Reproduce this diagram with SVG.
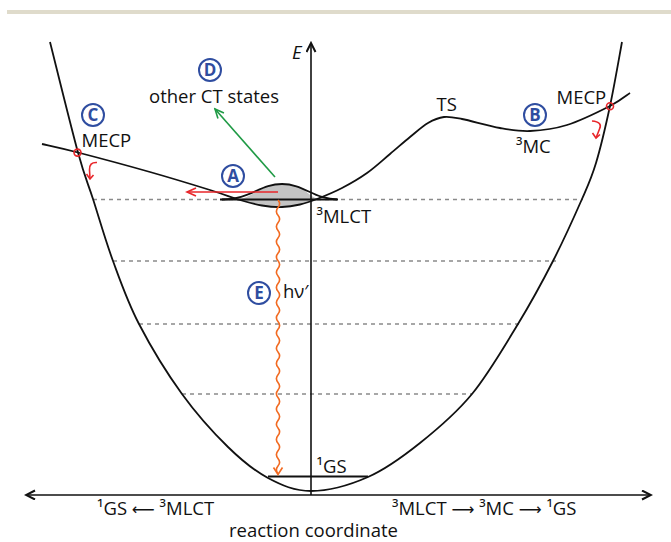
<svg xmlns="http://www.w3.org/2000/svg" width="671" height="542" viewBox="0 0 671 542">
<style>
.txt{font-family:"Open Sans","Liberation Sans",sans-serif;font-size:18.5px;fill:#111}
.arr{font-family:"DejaVu Sans",sans-serif;font-size:16px}
.curve{fill:none;stroke:#111;stroke-width:1.8}
.axis{fill:none;stroke:#111;stroke-width:1.6}
.dash{fill:none;stroke:#8a8a8a;stroke-width:1.5;stroke-dasharray:4 4}
.lbl circle{fill:none;stroke:#2f4da0;stroke-width:2}
.lbl text{font-family:"Open Sans","Liberation Sans",sans-serif;font-size:17px;font-weight:bold;fill:#2f4da0;text-anchor:middle}
.red{fill:none;stroke:#e8262a;stroke-width:1.6}
</style>
<defs>
<marker id="ak" markerUnits="userSpaceOnUse" markerWidth="12" markerHeight="12" refX="10" refY="5" orient="auto-start-reverse"><path d="M1,0.5 L10,5 L1,9.5" fill="none" stroke="#111" stroke-width="2"/></marker>
<marker id="ar" markerUnits="userSpaceOnUse" markerWidth="12" markerHeight="12" refX="10" refY="5" orient="auto"><path d="M1,1 L10,5 L1,9" fill="none" stroke="#e8262a" stroke-width="1.6"/></marker>
<marker id="ag" markerUnits="userSpaceOnUse" markerWidth="12" markerHeight="12" refX="10" refY="5" orient="auto"><path d="M1,1 L10,5 L1,9" fill="none" stroke="#1f9a45" stroke-width="1.6"/></marker>
</defs>
<rect x="7" y="10" width="664" height="4" fill="#dfdbcb"/>

<g id="levels">
<line class="dash" x1="93" y1="199.5" x2="583" y2="199.5"/>
<line class="dash" x1="113" y1="261" x2="556" y2="261"/>
<line class="dash" x1="139" y1="324" x2="519" y2="324"/>
<line class="dash" x1="182" y1="394" x2="472" y2="394"/>
</g>

<g id="wavefunction">
<path d="M240,199.6 C254,195 264,184 282,184 C300,184 306,193 317,199 C310,201.75 305.83,203.17 300,204.5 C294.17,205.83 288.33,206.83 282,207 C275.67,207.17 269,206.67 262,205.5 C255,204.33 248.67,202.58 240,200 Z" fill="#c4c4c4"/>
<path class="curve" d="M222,199.5 C250,199.5 260,184 282,184 C304,184 314,199.5 338,199.5"/>
<line class="curve" x1="220" y1="199.5" x2="337" y2="199.5"/>
</g>

<g id="gs-curve">
<path class="curve" d="M50,42 C54.67,60.42 70.83,126.33 78,152.5 C85.17,178.67 87.17,180.92 93,199 C98.83,217.08 105.33,240.17 113,261 C120.67,281.83 127.5,301.83 139,324 C150.5,346.17 167.17,373.5 182,394 C196.83,414.5 213.67,433 228,447 C242.33,461 254.17,470.67 268,478 C281.83,485.33 294.33,491 311,491 C327.67,491 349.83,485 368,477 C386.17,469 402.67,456.83 420,443 C437.33,429.17 455.67,413.83 472,394 C488.33,374.17 504.5,346.17 518,324 C531.5,301.83 542.33,281.83 553,261 C563.67,240.17 574.83,215.33 582,199 C589.17,182.67 591.33,178.5 596,163 C600.67,147.5 605.67,126.17 610,106 C614.33,85.83 620,52.67 622,42"/>
<line class="curve" x1="268" y1="476.5" x2="368" y2="476.5"/>
<text class="txt" x="316.5" y="473">¹GS</text>
</g>

<g id="excited-curve">
<path class="curve" d="M42,144 C48,145.42 60,147.83 78,152.5 C96,157.17 128,165.75 150,172 C172,178.25 195,185.33 210,190 C225,194.67 231.33,197.42 240,200 C248.67,202.58 255,204.33 262,205.5 C269,206.67 275.67,207.17 282,207 C288.33,206.83 294.17,205.83 300,204.5 C305.83,203.17 310,201.75 317,199 C324,196.25 333.67,192.33 342,188 C350.33,183.67 359,178.67 367,173 C375,167.33 382.83,160 390,154 C397.17,148 403.67,142.17 410,137 C416.33,131.83 422.33,126.33 428,123 C433.67,119.67 438.33,117.67 444,117 C449.67,116.33 452.67,117.17 462,119 C471.33,120.83 488.67,126 500,128 C511.33,130 518.83,131.5 530,131 C541.17,130.5 553.67,129.17 567,125 C580.33,120.83 599.5,111.33 610,106 C620.5,100.67 626.67,95.17 630,93"/>
<text class="txt" x="436.5" y="111">TS</text>
<text class="txt" x="516" y="153">³MC</text>
<text class="txt" x="316.5" y="222.5">³MLCT</text>
</g>

<g id="axes">
<line class="axis" x1="311" y1="495" x2="311" y2="43" marker-end="url(#ak)"/>
<line class="axis" x1="26" y1="495" x2="651" y2="495" marker-start="url(#ak)" marker-end="url(#ak)"/>
<text class="txt" x="292" y="59" font-style="italic">E</text>
<text class="txt" x="97" y="515">¹GS <tspan class="arr">⟵</tspan> ³MLCT</text>
<text class="txt" x="392" y="515">³MLCT <tspan class="arr">⟶</tspan> ³MC <tspan class="arr">⟶</tspan> ¹GS</text>
<text class="txt" x="229" y="537">reaction coordinate</text>
</g>

<g id="mecp-c">
<circle cx="77.5" cy="152.6" r="3.5" fill="none" stroke="#e8262a" stroke-width="1.6"/>
<path class="red" d="M97,162.5 Q89,162 89.5,170 L90,179"/>
<path class="red" d="M86.5,174 L90,179 L93.5,175"/>
<text class="txt" x="81.5" y="146.5">MECP</text>
</g>

<g id="mecp-b">
<circle cx="610" cy="106.3" r="3.5" fill="none" stroke="#e8262a" stroke-width="1.6"/>
<path class="red" d="M592,121 Q603,122 599.5,129 L596,138"/>
<path class="red" d="M592.5,133 L596,138 L600,134.5"/>
<text class="txt" x="556.5" y="104">MECP</text>
</g>

<g id="connectors">
<line x1="278" y1="192" x2="187" y2="192" stroke="#e8262a" stroke-width="1.6" marker-end="url(#ar)"/>
<line x1="275" y1="177" x2="215" y2="109" stroke="#1f9a45" stroke-width="1.6" marker-end="url(#ag)"/>
<path d="M278,200 q3.2,3.8 0,7.6 t0,7.6 t0,7.6 t0,7.6 t0,7.6 t0,7.6 t0,7.6 t0,7.6 t0,7.6 t0,7.6 t0,7.6 t0,7.6 t0,7.6 t0,7.6 t0,7.6 t0,7.6 t0,7.6 t0,7.6 t0,7.6 t0,7.6 t0,7.6 t0,7.6 t0,7.6 t0,7.6 t0,7.6 t0,7.6 t0,7.6 t0,7.6 t0,7.6 t0,7.6 t0,7.6 t0,7.6 t0,7.6 t0,7.6 t0,7.6 t0,7.6" fill="none" stroke="#f26a21" stroke-width="1.6"/>
<path d="M273.5,467.5 L278,474.5 L282.5,467.5" fill="none" stroke="#f26a21" stroke-width="1.6"/>
</g>

<g id="label-d" class="lbl"><circle cx="210" cy="70" r="11"/><text x="210" y="76">D</text></g>
<text class="txt" x="149" y="102.5">other CT states</text>
<g id="label-c" class="lbl"><circle cx="93" cy="115" r="11"/><text x="93" y="121">C</text></g>
<g id="label-a" class="lbl"><circle cx="233" cy="176" r="11"/><text x="233" y="182">A</text></g>
<g id="label-b" class="lbl"><circle cx="535" cy="115" r="11"/><text x="535" y="121">B</text></g>
<g id="label-e" class="lbl"><circle cx="259" cy="293" r="11"/><text x="259" y="299">E</text></g>
<text class="txt" x="283" y="298">hν′</text>
</svg>
